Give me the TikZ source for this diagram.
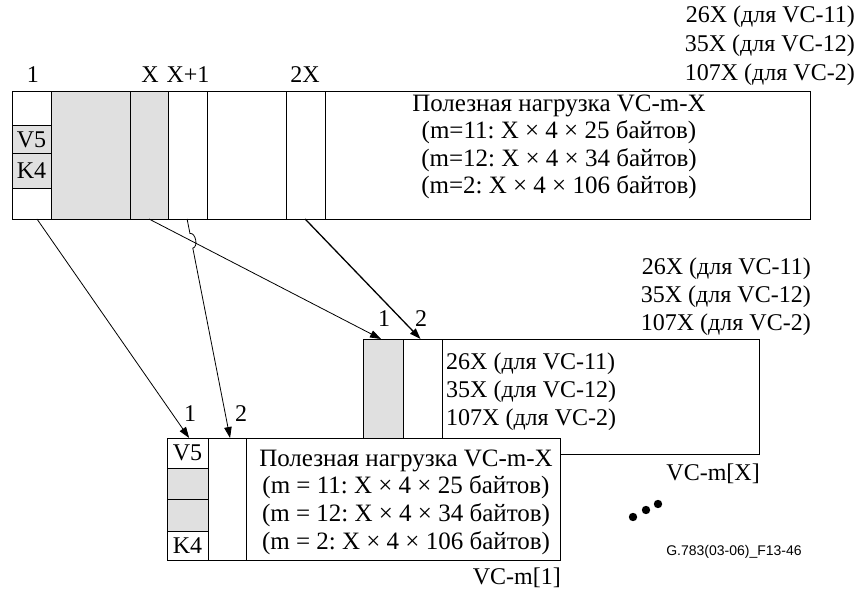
\documentclass[tikz,border=0pt]{standalone}
\usepackage{fontspec}
\setmainfont{Liberation Serif}
\newfontfamily\figsans{Liberation Sans}
\usetikzlibrary{arrows.meta,calc}
\begin{document}
\frenchspacing
\begin{tikzpicture}[x=1pt,y=-1pt,
  cellbox/.style={draw, line width=1pt, anchor=north west, inner sep=0pt, outer sep=0pt, fill=white},
  graycell/.style={cellbox, fill=black!12},
  txt/.style={font=\fontsize{24}{29}\selectfont, inner sep=0pt},
  arr/.style={-{Triangle[length=11pt,width=7.5pt]}, line width=0.8pt},
]
\useasboundingbox (0,0) rectangle (857,591);

% top labels
\node[font=\fontsize{24}{29}\selectfont, inner sep=0pt, anchor=east, align=right] (toplbl) at (855,46) {26X (для VC-11)\\35X (для VC-12)\\107X (для VC-2)};
\node[txt] (n1) at (33,75) {1};
\node[txt] (nX) at (150,75) {X};
\node[txt] (nX1) at (188,75) {X+1};
\node[txt] (n2X) at (305,75) {2X};

% top box
\node[cellbox, minimum width=39pt, minimum height=127pt] (t1) at (12,92) {};
\node[graycell, minimum width=79pt, minimum height=127pt] (t2) at (51,92) {};
\node[graycell, minimum width=38pt, minimum height=127pt] (t3) at (130,92) {};
\node[cellbox, minimum width=39pt, minimum height=127pt] (t4) at (168,92) {};
\node[cellbox, minimum width=79pt, minimum height=127pt] (t5) at (207,92) {};
\node[cellbox, minimum width=39pt, minimum height=127pt] (t6) at (286,92) {};
\node[cellbox, minimum width=485pt, minimum height=127pt] (t7) at (325,92) {};
\node[graycell, minimum width=39pt, minimum height=28pt] (tv5) at (12,126) {};
\node[txt] at (tv5.center) {V5};
\node[graycell, minimum width=39pt, minimum height=34pt] (tk4) at (12,154) {};
\node[txt] at (tk4.center) {K4};
\node[font=\fontsize{25}{27.5}\selectfont, inner sep=0pt, align=center] (tpay) at (559,147)
  {Полезная нагрузка VC-m-X\\(m=11: X × 4 × 25 байтов)\\(m=12: X × 4 × 34 байтов)\\(m=2: X × 4 × 106 байтов)};

% box VC-m[X]
\node[font=\fontsize{24}{28}\selectfont, inner sep=0pt, anchor=east, align=right] (b2lbl) at (811,297) {26X (для VC-11)\\35X (для VC-12)\\107X (для VC-2)};
\node[graycell, minimum width=40pt, minimum height=115pt] (b1) at (363,339) {};
\node[cellbox, minimum width=39pt, minimum height=115pt] (b2) at (403,339) {};
\node[cellbox, minimum width=317pt, minimum height=115pt] (b3) at (442,339) {};
\node[font=\fontsize{24}{28}\selectfont, inner sep=0pt, anchor=west, align=left] (b2txt) at (446,392)
  {26X (для VC-11)\\35X (для VC-12)\\107X (для VC-2)};
\node[txt, anchor=east] (b2name) at (760,474) {VC-m[X]};
\node[txt] (b2n1) at (384,319) {1};
\node[txt] (b2n2) at (421,319) {2};

% box VC-m[1]
\node[cellbox, minimum width=41pt, minimum height=30pt] (cv5) at (167,438) {};
\node[txt] at (cv5.center) {V5};
\node[graycell, minimum width=41pt, minimum height=31pt] (cg1) at (167,468) {};
\node[graycell, minimum width=41pt, minimum height=32pt] (cg2) at (167,499) {};
\node[cellbox, minimum width=41pt, minimum height=29pt] (ck4) at (167,531) {};
\node[txt] at (ck4.center) {K4};
\node[cellbox, minimum width=38pt, minimum height=122pt] (c2) at (208,438) {};
\node[cellbox, minimum width=314pt, minimum height=122pt] (c3) at (246,438) {};
\node[font=\fontsize{25}{27.7}\selectfont, inner sep=0pt, align=center] (cpay) at (406,502)
  {Полезная нагрузка VC-m-X\\(m = 11: X × 4 × 25 байтов)\\(m = 12: X × 4 × 34 байтов)\\(m = 2: X × 4 × 106 байтов)};
\node[txt, anchor=east] (cname) at (561,578) {VC-m[1]};
\node[txt] (cn1) at (190,414) {1};
\node[txt] (cn2) at (241,414) {2};

% arrows
\coordinate (s1) at ($(t1.south west)!0.64!(t1.south east)$);
\coordinate (s2) at ($(t3.south west)!0.5!(t3.south east)$);
\coordinate (s3) at ($(t4.south west)!0.49!(t4.south east)$);
\coordinate (s4) at ($(t6.south west)!0.49!(t6.south east)$);
\coordinate (e1) at ($(cv5.north west)!0.54!(cv5.north east)$);
\coordinate (e3) at ($(c2.north west)!0.58!(c2.north east)$);
\coordinate (e2) at ($(b1.north west)!0.45!(b1.north east)$);
\coordinate (e4) at ($(b2.north west)!0.45!(b2.north east)$);

\draw[arr] (s1) -- (e1);
\draw[arr] (s2) -- (e2);
\draw[arr] (s3) -- ($(s3)!0.066!(e3)$) to[bend left=90] ($(s3)!0.133!(e3)$) -- (e3);
\draw[arr, line width=1.3pt] (s4) -- (e4);

% dots
\fill (633,517) circle (4.2pt);
\fill (646,510) circle (4.2pt);
\fill (658,504) circle (4.2pt);

\node[font=\figsans\fontsize{14}{16}\selectfont, inner sep=0pt] (figid) at (734,552) {G.783(03-06)\_F13-46};
\end{tikzpicture}
\end{document}
